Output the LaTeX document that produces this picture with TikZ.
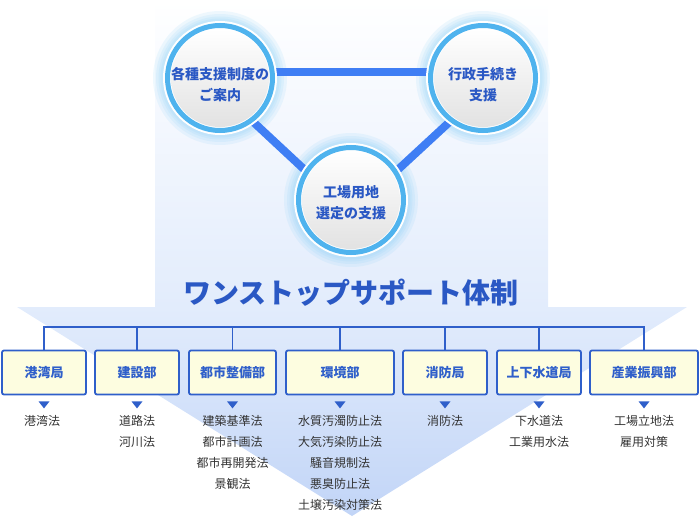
\documentclass[tikz,border=0pt]{standalone}
\usepackage{fontspec}
\setmainfont{Noto Sans CJK JP}
\usetikzlibrary{calc}
\definecolor{bgA}{HTML}{E2ECFC}
\definecolor{bgB}{HTML}{C2D5F7}
\definecolor{glowc}{HTML}{7CCBF6}
\definecolor{ringblue}{HTML}{4FB3EE}
\definecolor{innergray}{HTML}{E2E2E2}
\definecolor{connblue}{HTML}{3F7EF4}
\definecolor{circtext}{HTML}{2A58C4}
\definecolor{boxblue}{HTML}{2F5FCA}
\definecolor{boxfill}{HTML}{FDFDE0}
\definecolor{textgray}{HTML}{333333}
\tikzset{
  hub/.style={circle, minimum size=114pt, inner sep=0pt},
  conn/.style={connblue, line width=8pt},
  ctext/.style={align=center, font=\bfseries\fontsize{14}{21}\selectfont, text=circtext, inner sep=0pt},
  bx/.style={draw=boxblue, line width=1.8pt, fill=boxfill, rounded corners=2pt, minimum height=44pt, font=\bfseries\fontsize{13}{13}\selectfont, text=boxblue, inner sep=0pt},
  tree/.style={boxblue, line width=1.8pt},
  itm/.style={font=\fontsize{12}{12}\selectfont, text=textgray, inner sep=0pt},
  tri/.style={fill=boxblue},
}
\begin{document}
\begin{tikzpicture}[x=1pt,y=-1pt]
\useasboundingbox (0,0) rectangle (700,516);
% background
\shade[top color=white, bottom color=bgA] (155,0) rectangle (548,307);
\shade[top color=bgA, bottom color=bgB] (17,307) -- (687,307) -- (352,516) -- cycle;

% hub nodes
\node[hub] (c1) at (220,78) {};
\node[hub] (c2) at (483,78) {};
\node[hub] (c3) at (351,200) {};

% glows
\foreach \c in {c1,c2,c3}{
  \foreach \r in {67,64,61.5,59.5}{
    \fill[glowc, opacity=0.12] (\c) circle[radius=\r pt];
  }
}
% connectors
\draw[conn] ($(c1)+(0,-6)$) -- ($(c2)+(0,-6)$);
\draw[conn] ($(c1)+(0,13)$) -- ($(c3)+(0,13)$);
\draw[conn] ($(c2)+(0,13)$) -- ($(c3)+(0,13)$);
% circles
\foreach \c in {c1,c2,c3}{
  \fill[white] (\c) circle[radius=57pt];
  \draw[ringblue, line width=5pt] (\c) circle[radius=52.5pt];
  \shade[top color=white, bottom color=innergray] (\c) circle[radius=49pt];
}
\node[ctext] (t1) at (220,85) {各種支援制度の\\ご案内};
\node[ctext] (t2) at (483,85) {行政手続き\\支援};
\node[ctext] (t3) at (351,203) {工場用地\\選定の支援};

% title
\node[font=\bfseries\fontsize{28}{28}\selectfont, text=circtext, inner sep=0pt] (title) at (351,293) {ワンストップサポート体制};

% boxes
\node[bx, minimum width=84pt] (b1) at (44,372.5) {港湾局};
\node[bx, minimum width=84pt] (b2) at (137,372.5) {建設部};
\node[bx, minimum width=87pt] (b3) at (232.5,372.5) {都市整備部};
\node[bx, minimum width=108pt] (b4) at (340,372.5) {環境部};
\node[bx, minimum width=84pt] (b5) at (445,372.5) {消防局};
\node[bx, minimum width=84pt] (b6) at (539,372.5) {上下水道局};
\node[bx, minimum width=108pt] (b7) at (644,372.5) {産業振興部};

% tree
\coordinate (bar) at (0,327);
\draw[tree] (b1.north) -- (b1.north |- bar) -- (b7.north |- bar) -- (b7.north);
\foreach \b in {b2,b3,b4,b5,b6}{
  \draw[tree] (\b.north) -- (\b.north |- bar);
}

% small triangles
\foreach \b in {b1,b2,b3,b4,b5,b6,b7}{
  \fill[tri] ($(\b.south)+(-5.5,6)$) -- ++(11,0) -- ++(-5.5,7) -- cycle;
}

% items
\node[itm] (i1a) at ($(b1.south)+(-2,26)$) {港湾法};
\node[itm] (i2a) at ($(b2.south)+(0,26)$) {道路法};
\node[itm] (i2b) at ($(b2.south)+(0,47)$) {河川法};
\node[itm] (i3a) at ($(b3.south)+(0,26)$) {建築基準法};
\node[itm] (i3b) at ($(b3.south)+(0,47)$) {都市計画法};
\node[itm] (i3c) at ($(b3.south)+(0,68)$) {都市再開発法};
\node[itm] (i3d) at ($(b3.south)+(0,89)$) {景観法};
\node[itm] (i4a) at ($(b4.south)+(0,26)$) {水質汚濁防止法};
\node[itm] (i4b) at ($(b4.south)+(0,47)$) {大気汚染防止法};
\node[itm] (i4c) at ($(b4.south)+(0,68)$) {騒音規制法};
\node[itm] (i4d) at ($(b4.south)+(0,89)$) {悪臭防止法};
\node[itm] (i4e) at ($(b4.south)+(0,110)$) {土壌汚染対策法};
\node[itm] (i5a) at ($(b5.south)+(0,26)$) {消防法};
\node[itm] (i6a) at ($(b6.south)+(0,26)$) {下水道法};
\node[itm] (i6b) at ($(b6.south)+(0,47)$) {工業用水法};
\node[itm] (i7a) at ($(b7.south)+(0,26)$) {工場立地法};
\node[itm] (i7b) at ($(b7.south)+(0,47)$) {雇用対策};
\end{tikzpicture}
\end{document}
